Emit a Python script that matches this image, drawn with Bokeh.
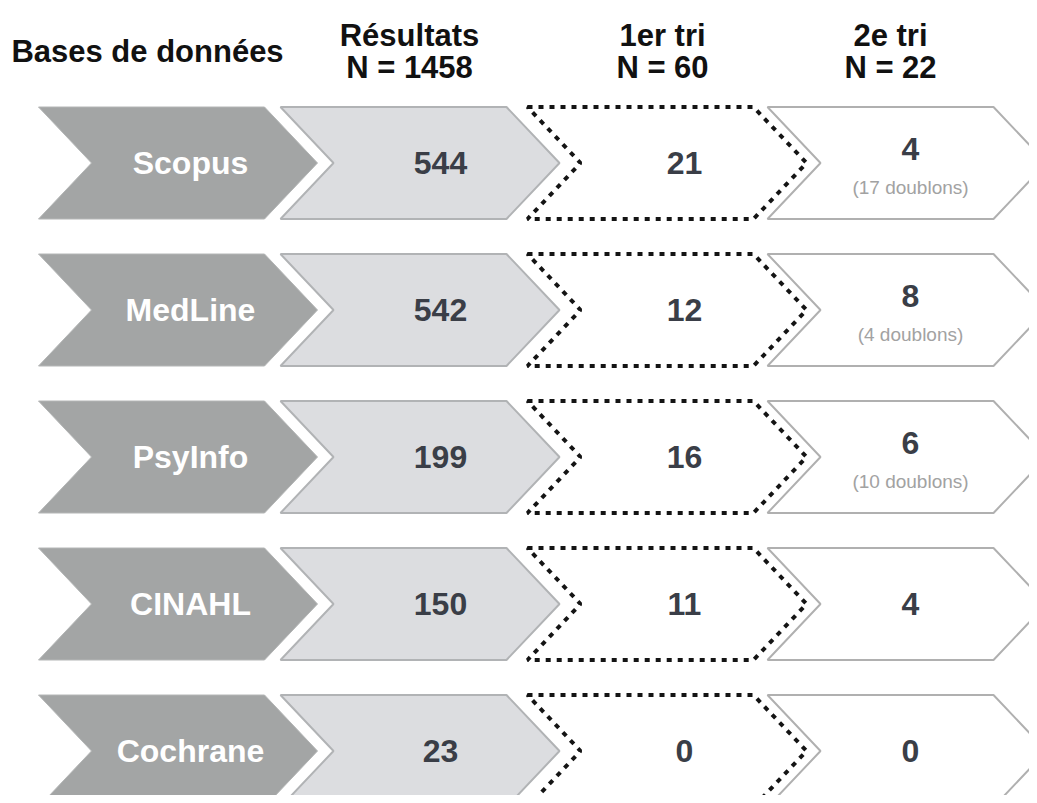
from bokeh.plotting import figure
from bokeh.models import Range1d, ColumnDataSource
from bokeh.embed import file_html
from bokeh.resources import INLINE
from bokeh.core.properties import value

# ---- data ----
bases = ["Scopus", "MedLine", "PsyInfo", "CINAHL", "Cochrane"]
resultats = [544, 542, 199, 150, 23]
tri1 = [21, 12, 16, 11, 0]
tri2 = [4, 8, 6, 4, 0]
doublons = [17, 4, 10, None, None]
col_titles = ["Bases de données", "Résultats", "1er tri", "2e tri"]
col_totals = [None, 1458, 60, 22]

# ---- layout (pixel-like coordinates, y downwards) ----
row0 = 162.5
pitch = 147.0
half_h = 56.0
col_left = [38, 280, 527, 767]
body_w = 226
depth = 53
label_x = [190, 440, 684, 910]
head_x = [147, 409, 662, 890]

FONT = value("Liberation Sans")
W, H = 1029, 795

p = figure(width=W, height=H, x_range=Range1d(0, W), y_range=Range1d(H, 0),
           output_backend="svg", toolbar_location=None, min_border=0)
p.axis.visible = False
p.grid.visible = False
p.outline_line_color = None
p.background_fill_color = "white"
p.border_fill_color = "white"

rows_y = [row0 + i * pitch for i in range(len(bases))]


def chevrons(ci):
    xs, ys = [], []
    L = col_left[ci]
    for yc in rows_y:
        t, b = yc - half_h, yc + half_h
        xs.append([L, L + body_w, L + body_w + depth, L + body_w, L, L + depth])
        ys.append([t, t, yc, b, b, yc])
    return xs, ys


xs, ys = chevrons(0)
p.patches(xs, ys, fill_color="#a3a5a5", line_color="#b4b6b6", line_width=1)
xs, ys = chevrons(1)
p.patches(xs, ys, fill_color="#dcdde0", line_color="#b1b3b5", line_width=2)
xs, ys = chevrons(2)
p.patches(xs, ys, fill_color="white", line_color="#141414", line_width=4, line_dash="5 6")
xs, ys = chevrons(3)
p.patches(xs, ys, fill_color="white", line_color="#b0b0b0", line_width=2)

# ---- chevron labels ----
src0 = ColumnDataSource(dict(x=[label_x[0]] * len(bases), y=rows_y, t=bases))
p.text("x", "y", text="t", source=src0, text_color="white", text_font=FONT,
       text_font_style="bold", text_font_size="32px", text_align="center",
       text_baseline="middle")

src1 = ColumnDataSource(dict(x=[label_x[1]] * len(bases), y=rows_y, t=[str(v) for v in resultats]))
p.text("x", "y", text="t", source=src1, text_color="#3a3e47", text_font=FONT,
       text_font_style="bold", text_font_size="32px", text_align="center",
       text_baseline="middle")

src2 = ColumnDataSource(dict(x=[label_x[2]] * len(bases), y=rows_y, t=[str(v) for v in tri1]))
p.text("x", "y", text="t", source=src2, text_color="#3a3e47", text_font=FONT,
       text_font_style="bold", text_font_size="32px", text_align="center",
       text_baseline="middle")

y3 = [yc - 14 if d is not None else yc for yc, d in zip(rows_y, doublons)]
src3 = ColumnDataSource(dict(x=[label_x[3]] * len(bases), y=y3, t=[str(v) for v in tri2]))
p.text("x", "y", text="t", source=src3, text_color="#3a3e47", text_font=FONT,
       text_font_style="bold", text_font_size="32px", text_align="center",
       text_baseline="middle")

dx, dy, dt = [], [], []
for yc, d in zip(rows_y, doublons):
    if d is not None:
        dx.append(label_x[3])
        dy.append(yc + 24)
        dt.append(f"({d} doublons)")
src4 = ColumnDataSource(dict(x=dx, y=dy, t=dt))
p.text("x", "y", text="t", source=src4, text_color="#a2a2a2", text_font=FONT,
       text_font_size="19px", text_align="center", text_baseline="middle")

# ---- headers ----
hx, hy, ht = [], [], []
for i, (title, tot) in enumerate(zip(col_titles, col_totals)):
    if tot is None:
        hx.append(head_x[i]); hy.append(51); ht.append(title)
    else:
        hx.append(head_x[i]); hy.append(35); ht.append(title)
        hx.append(head_x[i]); hy.append(67); ht.append(f"N = {tot}")
srch = ColumnDataSource(dict(x=hx, y=hy, t=ht))
p.text("x", "y", text="t", source=srch, text_color="#111111", text_font=FONT,
       text_font_style="bold", text_font_size="31px", text_align="center",
       text_baseline="middle")

open("out.html", "w").write(file_html(p, INLINE))
